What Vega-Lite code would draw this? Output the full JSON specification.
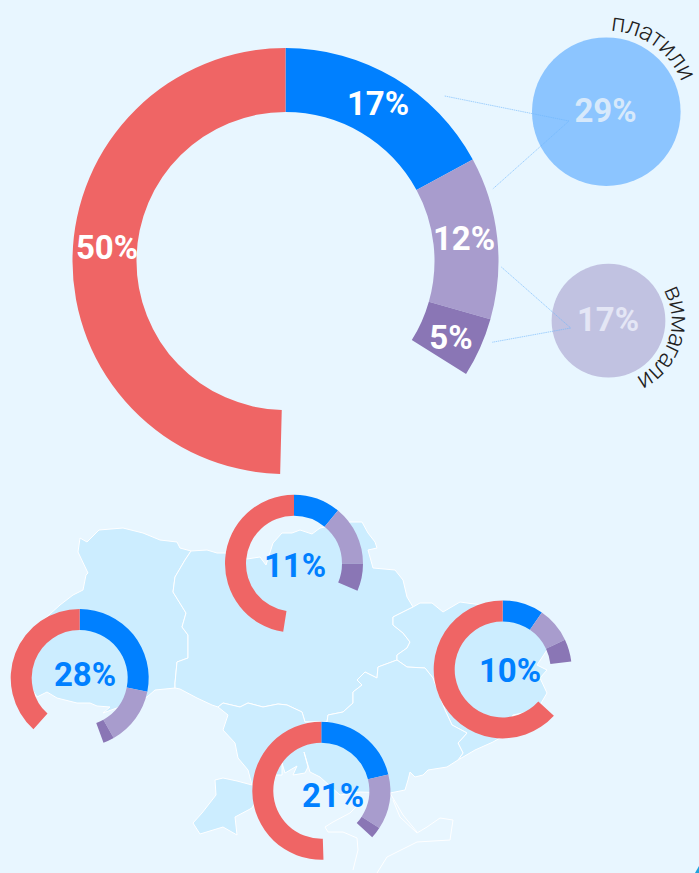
{
"$schema":"https://vega.github.io/schema/vega-lite/v6.json",
"width":699,"height":873,"padding":0,"autosize":"none","background":"#e8f6ff",
"config":{"view":{"stroke":null}},
"datasets":{
"map":{"type":"FeatureCollection","features":[
{"type":"Feature","properties":{"zone":"Захід","kind":"land"},"geometry":{"type":"Polygon","coordinates":[[[80,538],[87,542],[99,530],[123,528],[143,533],[160,540],[177,542],[180,548],[191,551],[185,560],[175,577],[173,592],[186,613],[182,627],[188,635],[188,658],[177,662],[175,683],[175,688],[155,690],[147,697],[125,705],[103,713],[110,707],[97,706],[90,703],[77,703],[57,698],[47,692],[37,697],[20,670],[22,640],[50,614],[60,605],[73,595],[83,590],[86,575],[88,573],[78,552],[80,538]]]}},
{"type":"Feature","properties":{"zone":"Центр","kind":"land"},"geometry":{"type":"Polygon","coordinates":[[[191,551],[207,550],[217,553],[225,553],[247,559],[260,557],[266,565],[273,543],[282,533],[292,533],[300,530],[312,534],[320,528],[350,522],[362,522],[368,533],[375,542],[377,548],[368,550],[373,568],[395,570],[403,580],[407,597],[413,607],[393,617],[393,625],[403,633],[410,642],[407,648],[397,655],[397,660],[378,667],[377,678],[365,672],[357,680],[362,685],[353,692],[353,703],[343,712],[328,715],[327,722],[305,722],[302,712],[287,705],[278,704],[263,707],[248,703],[240,707],[223,703],[218,707],[212,705],[197,698],[180,689],[175,688],[175,683],[177,662],[188,658],[188,635],[182,627],[186,613],[173,592],[175,577],[185,560],[191,551]]]}},
{"type":"Feature","properties":{"zone":"Схід","kind":"land"},"geometry":{"type":"Polygon","coordinates":[[[413,607],[420,603],[432,603],[443,612],[460,602],[467,603],[490,606],[530,620],[547,640],[553,650],[547,650],[537,665],[547,670],[540,678],[547,693],[537,710],[513,715],[500,738],[493,742],[475,750],[458,760],[463,753],[458,743],[467,733],[452,725],[445,710],[433,678],[425,668],[407,667],[397,660],[397,655],[407,648],[410,642],[403,633],[393,625],[393,617],[413,607]]]}},
{"type":"Feature","properties":{"zone":"Південь","kind":"land"},"geometry":{"type":"Polygon","coordinates":[[[218,707],[223,703],[240,707],[248,703],[263,707],[278,704],[287,705],[302,712],[305,722],[327,722],[328,715],[343,712],[353,703],[353,692],[362,685],[357,680],[365,672],[377,678],[378,667],[397,660],[407,667],[425,668],[433,678],[445,710],[452,725],[467,733],[458,743],[463,753],[458,760],[447,767],[428,770],[423,775],[415,777],[410,772],[408,780],[405,790],[390,793],[360,792],[340,795],[320,777],[310,772],[304,752],[308,767],[305,773],[293,775],[297,766],[285,773],[282,763],[282,775],[275,775],[262,790],[252,808],[235,817],[237,835],[223,827],[200,834],[193,823],[202,813],[216,795],[215,780],[223,778],[237,781],[252,785],[248,770],[238,758],[235,743],[223,730],[228,715],[218,707]]]}},
{"type":"Feature","properties":{"zone":"Крим","kind":"outline"},"geometry":{"type":"MultiLineString","coordinates":[[[393,800],[400,817],[417,833],[427,827],[440,818],[453,820],[450,840],[417,842],[387,857],[377,873]],[[360,803],[350,813],[333,822],[325,827],[328,832],[343,832],[357,838],[358,850],[353,870]],[[390,793],[403,815],[417,832]]]}},
{"type":"Feature","properties":{"zone":"кут","kind":"corner"},"geometry":{"type":"Polygon","coordinates":[[[699,866],[695,873],[699,873],[699,866]]]}}
]},
"slices":[
{"donut":"Україна","mapX":285.5,"mapY":261,"segment":"платили","start":0,"end":17.1},
{"donut":"Україна","mapX":285.5,"mapY":261,"segment":"платили і вимагали","start":17.1,"end":29.4},
{"donut":"Україна","mapX":285.5,"mapY":261,"segment":"вимагали","start":29.4,"end":33.9},
{"donut":"Україна","mapX":285.5,"mapY":261,"segment":"інше","start":50.4,"end":100},
{"donut":"Північ","mapX":294,"mapY":563.7,"segment":"платили","start":0,"end":11},
{"donut":"Північ","mapX":294,"mapY":563.7,"segment":"платили і вимагали","start":11,"end":25},
{"donut":"Північ","mapX":294,"mapY":563.7,"segment":"вимагали","start":25,"end":31.4},
{"donut":"Північ","mapX":294,"mapY":563.7,"segment":"інше","start":52.5,"end":100},
{"donut":"Захід","mapX":79.7,"mapY":678,"segment":"платили","start":0,"end":28.2},
{"donut":"Захід","mapX":79.7,"mapY":678,"segment":"платили і вимагали","start":28.2,"end":41.8},
{"donut":"Захід","mapX":79.7,"mapY":678,"segment":"вимагали","start":41.8,"end":44.4},
{"donut":"Захід","mapX":79.7,"mapY":678,"segment":"інше","start":61.7,"end":100},
{"donut":"Схід","mapX":502.7,"mapY":669.4,"segment":"платили","start":0,"end":9.6},
{"donut":"Схід","mapX":502.7,"mapY":669.4,"segment":"платили і вимагали","start":9.6,"end":17.9},
{"donut":"Схід","mapX":502.7,"mapY":669.4,"segment":"вимагали","start":17.9,"end":23.2},
{"donut":"Схід","mapX":502.7,"mapY":669.4,"segment":"інше","start":36.7,"end":100},
{"donut":"Південь","mapX":321.3,"mapY":790.7,"segment":"платили","start":0,"end":21.2},
{"donut":"Південь","mapX":321.3,"mapY":790.7,"segment":"платили і вимагали","start":21.2,"end":34.1},
{"donut":"Південь","mapX":321.3,"mapY":790.7,"segment":"вимагали","start":34.1,"end":36.8},
{"donut":"Південь","mapX":321.3,"mapY":790.7,"segment":"інше","start":49.5,"end":100}
],
"bubbles":[
{"word":"платили","share":29,"mapX":606.3,"mapY":111.7},
{"word":"вимагали","share":17,"mapX":608.5,"mapY":320.7}
],
"connectors":[
{"link":"a","step":1,"mapX":444.7,"mapY":96},
{"link":"a","step":2,"mapX":569,"mapY":121},
{"link":"a","step":3,"mapX":492.7,"mapY":189},
{"link":"b","step":1,"mapX":501.3,"mapY":267},
{"link":"b","step":2,"mapX":570.7,"mapY":328},
{"link":"b","step":3,"mapX":492,"mapY":342.3}
],
"labels":[
{"text":"17%","tone":"main","mapX":378,"mapY":105},
{"text":"12%","tone":"main","mapX":464,"mapY":240},
{"text":"5%","tone":"main","mapX":451,"mapY":339},
{"text":"50%","tone":"main","mapX":107,"mapY":249},
{"text":"29%","tone":"paid","mapX":605.5,"mapY":112},
{"text":"17%","tone":"asked","mapX":608,"mapY":321},
{"text":"11%","tone":"region","mapX":295,"mapY":567},
{"text":"28%","tone":"region","mapX":85,"mapY":676},
{"text":"10%","tone":"region","mapX":510,"mapY":672},
{"text":"21%","tone":"region","mapX":333,"mapY":797}
],
"letters":[
{"word":"платили","letter":"п","around":2.22,"mapX":606.3,"mapY":111.7},
{"word":"платили","letter":"л","around":4.97,"mapX":606.3,"mapY":111.7},
{"word":"платили","letter":"а","around":7.53,"mapX":606.3,"mapY":111.7},
{"word":"платили","letter":"т","around":9.78,"mapX":606.3,"mapY":111.7},
{"word":"платили","letter":"и","around":12.22,"mapX":606.3,"mapY":111.7},
{"word":"платили","letter":"л","around":14.97,"mapX":606.3,"mapY":111.7},
{"word":"платили","letter":"и","around":17.72,"mapX":606.3,"mapY":111.7},
{"word":"вимагали","letter":"в","around":18.61,"mapX":608.5,"mapY":320.7},
{"word":"вимагали","letter":"и","around":21.94,"mapX":608.5,"mapY":320.7},
{"word":"вимагали","letter":"м","around":25.83,"mapX":608.5,"mapY":320.7},
{"word":"вимагали","letter":"а","around":29.56,"mapX":608.5,"mapY":320.7},
{"word":"вимагали","letter":"г","around":32.14,"mapX":608.5,"mapY":320.7},
{"word":"вимагали","letter":"а","around":34.72,"mapX":608.5,"mapY":320.7},
{"word":"вимагали","letter":"л","around":37.78,"mapX":608.5,"mapY":320.7},
{"word":"вимагали","letter":"и","around":41.11,"mapX":608.5,"mapY":320.7}
]
},
"layer":[
{"data":{"name":"map","format":{"type":"json","property":"features"}},
 "transform":[{"filter":"datum.properties.kind=='land'"}],
 "projection":{"type":"identity","scale":1,"translate":[0,0]},
 "mark":{"type":"geoshape","fill":"#ccedff","stroke":"#ffffff","strokeWidth":1},"encoding":{}},
{"data":{"name":"map","format":{"type":"json","property":"features"}},
 "transform":[{"filter":"datum.properties.kind=='outline'"}],
 "projection":{"type":"identity","scale":1,"translate":[0,0]},
 "mark":{"type":"geoshape","filled":false,"stroke":"#ffffff","strokeWidth":1},"encoding":{}},
{"data":{"name":"map","format":{"type":"json","property":"features"}},
 "transform":[{"filter":"datum.properties.kind=='corner'"}],
 "projection":{"type":"identity","scale":1,"translate":[0,0]},
 "mark":{"type":"geoshape","fill":"#1fa2dc","stroke":null},"encoding":{}},
{"data":{"name":"bubbles"},
 "mark":{"type":"point","filled":true,"opacity":1,"shape":"circle"},
 "encoding":{
  "x":{"field":"mapX","type":"quantitative","axis":null,"scale":{"domain":[0,699],"nice":false,"zero":false}},
  "y":{"field":"mapY","type":"quantitative","axis":null,"scale":{"domain":[873,0],"nice":false,"zero":false}},
  "size":{"field":"share","type":"quantitative","legend":null,"scale":{"domain":[0,29],"range":[0,22082]}},
  "color":{"field":"word","type":"nominal","legend":null,"scale":{"domain":["платили","вимагали","main","paid","asked","region"],"range":["#8cc5ff","#c1c2e1","#ffffff","#d7e9fb","#e4e6f5","#0080ff"]}}
 }},
{"data":{"name":"connectors"},
 "mark":{"type":"line","stroke":"#6db6fb","strokeWidth":0.6,"strokeDash":[1.5,0.7]},
 "encoding":{
  "x":{"field":"mapX","type":"quantitative"},
  "y":{"field":"mapY","type":"quantitative"},
  "detail":{"field":"link"},
  "order":{"field":"step"}
 }},
{"data":{"name":"slices"},
 "transform":[{"filter":"datum.donut=='Україна'"}],
 "mark":{"type":"arc","radius":213,"radius2":149},
 "encoding":{
  "x":{"field":"mapX","type":"quantitative"},
  "y":{"field":"mapY","type":"quantitative"},
  "theta":{"field":"start","type":"quantitative","scale":{"domain":[0,100],"range":[0,6.283185307]}},
  "theta2":{"field":"end"},
  "fill":{"field":"segment","type":"nominal","legend":null,"scale":{"domain":["платили","платили і вимагали","вимагали","інше"],"range":["#0080ff","#a89ccd","#8a76b5","#ef6565"]}}
 }},
{"data":{"name":"slices"},
 "transform":[{"filter":"datum.donut!='Україна'"}],
 "mark":{"type":"arc","radius":69,"radius2":48},
 "encoding":{
  "x":{"field":"mapX","type":"quantitative"},
  "y":{"field":"mapY","type":"quantitative"},
  "theta":{"field":"start","type":"quantitative","scale":{"domain":[0,100],"range":[0,6.283185307]}},
  "theta2":{"field":"end"},
  "fill":{"field":"segment","type":"nominal","legend":null}
 }},
{"data":{"name":"labels"},
 "mark":{"type":"text","font":"Roboto","fontWeight":"bold","fontSize":33,"align":"center","baseline":"middle"},
 "encoding":{
  "x":{"field":"mapX","type":"quantitative"},
  "y":{"field":"mapY","type":"quantitative"},
  "text":{"field":"text"},
  "color":{"field":"tone","type":"nominal","legend":null}
 }},
{"data":{"name":"letters"},
 "transform":[{"filter":"datum.word=='платили'"}],
 "mark":{"type":"text","font":"Roboto","fontWeight":300,"fontSize":25,"radius":89,"align":"center","baseline":"middle","fill":"#222222"},
 "encoding":{
  "x":{"field":"mapX","type":"quantitative"},
  "y":{"field":"mapY","type":"quantitative"},
  "theta":{"field":"around","type":"quantitative"},
  "angle":{"field":"around","type":"quantitative","scale":{"domain":[0,100],"range":[0,360]}},
  "text":{"field":"letter"},
  "description":{"field":"word"}
 }},
{"data":{"name":"letters"},
 "transform":[{"filter":"datum.word=='вимагали'"}],
 "mark":{"type":"text","font":"Roboto","fontWeight":300,"fontSize":25,"radius":71,"align":"center","baseline":"middle","fill":"#222222"},
 "encoding":{
  "x":{"field":"mapX","type":"quantitative"},
  "y":{"field":"mapY","type":"quantitative"},
  "theta":{"field":"around","type":"quantitative"},
  "angle":{"field":"around","type":"quantitative","scale":{"domain":[0,100],"range":[0,360]}},
  "text":{"field":"letter"},
  "description":{"field":"word"}
 }}
]
}
